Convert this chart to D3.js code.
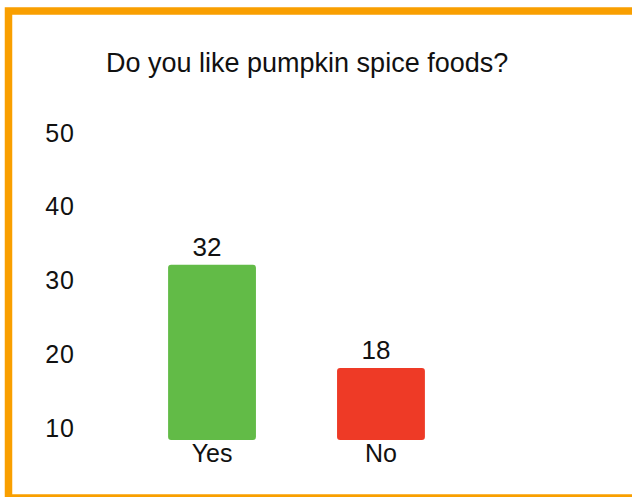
<!DOCTYPE html>
<html>
<head>
<meta charset="utf-8">
<script src="https://cdn.jsdelivr.net/npm/d3@7"></script>
<style>
  body { margin: 0; background: #fff; }
  svg { display: block; font-family: "Liberation Sans", Arial, Helvetica, sans-serif; }
</style>
</head>
<body>
<svg id="chart"></svg>
<script>
const categories = ["Yes", "No"];
const counts = [32, 18];
const barColors = ["#62bb47", "#ee3a26"];
const yTicks = [10, 20, 30, 40, 50];
const title = "Do you like pumpkin spice foods?";

const width = 632, height = 497;
const svg = d3.select("#chart").attr("width", width).attr("height", height);

// orange frame, right side runs off the page
svg.append("rect")
  .attr("x", 8.5).attr("y", 11)
  .attr("width", 660).attr("height", 487)
  .attr("fill", "#fff")
  .attr("stroke", "#f99f00")
  .attr("stroke-width", 7.5);

svg.append("text")
  .attr("x", 106).attr("y", 72)
  .attr("font-size", 27)
  .attr("fill", "#111")
  .text(title);

// scales
let yScale = d3.scaleLinear().domain([10, 50]).range([427, 132]);
let xScale = d3.scaleBand().domain(categories).range([87, 506]).padding(0.48);
const floor = yScale.invert(440);

// y labels only, no axis line or ticks
let yAxis = d3.axisLeft(yScale).tickValues(yTicks).tickSize(0).tickPadding(0);
let gy = svg.append("g")
  .attr("transform", "translate(75, 0)")
  .call(yAxis);
gy.select(".domain").remove();
gy.selectAll("text")
  .attr("font-size", 25)
  .attr("font-family", "inherit")
  .attr("letter-spacing", 1)
  .attr("fill", "#111")
  .attr("dy", "0.36em");

let data = categories.map((c, i) => ({cat: c, val: counts[i], color: barColors[i]}));

svg.append("g").selectAll("rect").data(data)
  .enter().append("rect")
  .attr("x", d => xScale(d.cat))
  .attr("y", d => yScale(d.val))
  .attr("width", xScale.bandwidth())
  .attr("height", d => yScale(floor) - yScale(d.val))
  .attr("rx", 3)
  .attr("fill", d => d.color);

// value labels
svg.append("g").selectAll("text").data(data)
  .enter().append("text")
  .attr("x", d => xScale(d.cat) + xScale.bandwidth() / 2 - 5)
  .attr("y", d => yScale(d.val) - 9)
  .attr("text-anchor", "middle")
  .attr("font-size", 26)
  .attr("fill", "#111")
  .text(d => d.val);

// category labels
svg.append("g").selectAll("text").data(data)
  .enter().append("text")
  .attr("x", d => xScale(d.cat) + xScale.bandwidth() / 2)
  .attr("y", 462)
  .attr("text-anchor", "middle")
  .attr("font-size", 25)
  .attr("fill", "#111")
  .text(d => d.cat);
</script>
</body>
</html>
